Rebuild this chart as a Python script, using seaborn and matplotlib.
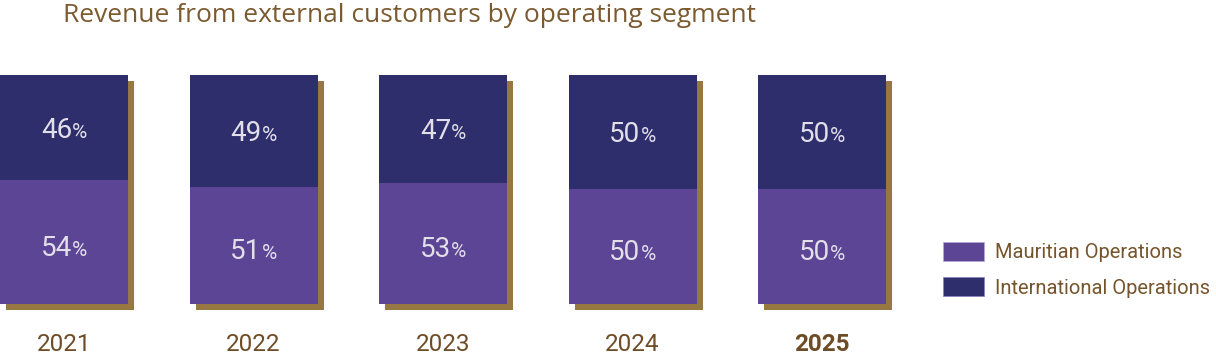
import matplotlib
matplotlib.use("Agg")
import matplotlib.pyplot as plt
import matplotlib.transforms as mtransforms
from matplotlib.patches import Patch
import seaborn as sns

# Chart data
years = ["2021", "2022", "2023", "2024", "2025"]
mauritian = [54, 51, 53, 50, 50]
international = [46, 49, 47, 50, 50]
totals = [m + i for m, i in zip(mauritian, international)]

# Colours
purple = "#5c4594"
navy = "#2d2e6b"
shadow = "#987842"
brown = "#6e4c26"
label_col = "#e2dfea"

sns.set_theme(style="white")
plt.rcParams["font.family"] = ["Roboto", "DejaVu Sans"]

fig = plt.figure(figsize=(12.16, 3.57), dpi=100)
W, H = 1216, 357
# axes spans the full width, y from pixel 304 (0%) to 75 (100%)
ax = fig.add_axes([0, (H - 304) / H, 1, 229 / H])

spacing = 189.5
first = 64
xmin = -first / spacing
xmax = (W - first) / spacing
bw = 128 / spacing

# Shadow bars, shifted right/down by a few pixels
sns.barplot(x=years, y=totals, color=shadow, width=bw, saturation=1, linewidth=0, ax=ax)
shift = mtransforms.ScaledTranslation(6 / 100, -6 / 100, fig.dpi_scale_trans)
for p in ax.patches:
    p.set_transform(ax.transData + shift)
    p.set_clip_on(False)

# stacked bars: total in navy, Mauritian part over it in purple
sns.barplot(x=years, y=totals, color=navy, width=bw, saturation=1, linewidth=0, ax=ax)
sns.barplot(x=years, y=mauritian, color=purple, width=bw, saturation=1, linewidth=0, ax=ax)

ax.set_xlim(xmin, xmax)
ax.set_ylim(0, 100)
ax.set_ylabel("")
ax.set_xlabel("")
ax.set_yticks([])
for s in ax.spines.values():
    s.set_visible(False)

# values inside the bars, with a smaller percent sign
def put_value(x, y, val):
    ax.annotate(str(val), (x, y), xytext=(8, -10), textcoords="offset pixels",
                ha="right", va="baseline", fontsize=20, color=label_col)
    ax.annotate("%", (x, y), xytext=(8, -10), textcoords="offset pixels",
                ha="left", va="baseline", fontsize=15, color=label_col)

for i, (m, n) in enumerate(zip(mauritian, international)):
    put_value(i, m / 2 - 1.5, m)
    put_value(i, m + n / 2, n)

# year labels
ax.tick_params(axis="x", length=0, pad=21, labelsize=17.5, labelcolor=brown)
ax.set_xticks(range(len(years)))
ax.set_xticklabels(years)
ax.get_xticklabels()[-1].set_fontweight("bold")

fig.text(63 / W, 1 - 22 / H, "Revenue from external customers by operating segment",
         fontsize=19, color="#7b5a30", ha="left", va="baseline",
         family=["Open Sans", "DejaVu Sans"])

handles = [Patch(facecolor=purple, edgecolor="#b9a8d8", linewidth=0.6, label="Mauritian Operations"),
           Patch(facecolor=navy, edgecolor="#8a86c0", linewidth=0.6, label="International Operations")]
leg = fig.legend(handles=handles, loc="upper left", bbox_to_anchor=(937 / W, 1 - 236 / H),
                 frameon=False, fontsize=14.5, handlelength=2.05, handleheight=1.05,
                 handletextpad=0.55, labelspacing=0.75, borderaxespad=0, borderpad=0.3)
for t in leg.get_texts():
    t.set_color("#76552c")

fig.savefig("out.png", dpi=100)
